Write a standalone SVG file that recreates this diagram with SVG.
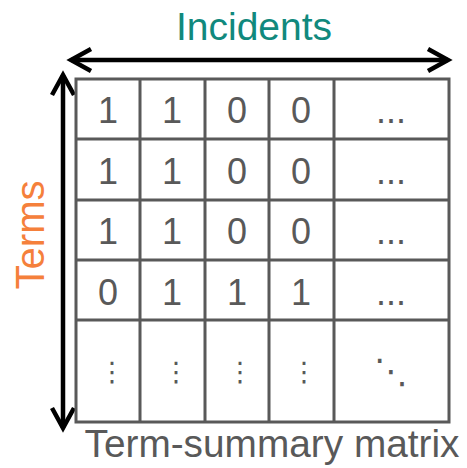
<svg xmlns="http://www.w3.org/2000/svg" width="467" height="468" viewBox="0 0 467 468">
<style>
.grid{stroke:#595959;stroke-width:3;fill:none}
.num{font-family:"Liberation Sans",Arial,sans-serif;font-size:36px;fill:#595959;text-anchor:middle}
.dots{font-family:"DejaVu Sans",sans-serif;font-size:27px;fill:#595959;text-anchor:middle}
.arrow{stroke:#000;stroke-width:4.5;fill:none}
</style>
<defs>
<marker id="chev" markerUnits="userSpaceOnUse" viewBox="-25 -14 30 28" markerWidth="30" markerHeight="28" refX="0" refY="0" orient="auto-start-reverse" overflow="visible">
<path d="M-20,-11 L0,0 L-20,11" stroke="#000" stroke-width="4.5" fill="none" stroke-linejoin="miter"/>
</marker>
</defs>
<rect width="467" height="468" fill="#fff"/>
<g id="title-incidents"><text x="254" y="40" font-family="'Liberation Sans',Arial,sans-serif" font-size="39" fill="#11897D" text-anchor="middle">Incidents</text></g>
<g id="title-terms"><text transform="translate(44,235) rotate(-90)" font-family="'Liberation Sans',Arial,sans-serif" font-size="40" fill="#F5803B" text-anchor="middle">Terms</text></g>
<g id="caption"><text x="272" y="457" font-family="'Liberation Sans',Arial,sans-serif" font-size="38" fill="#595959" text-anchor="middle" textLength="375" lengthAdjust="spacingAndGlyphs">Term-summary matrix</text></g>
<g id="connectors">
<line class="arrow" x1="71" y1="60" x2="448" y2="60" marker-start="url(#chev)" marker-end="url(#chev)"/>
<line class="arrow" x1="63" y1="75" x2="63" y2="428" marker-start="url(#chev)" marker-end="url(#chev)"/>
</g>
<g id="matrix">
<rect class="grid" x="76" y="79" width="373" height="343"/>
<path class="grid" d="M140,79V422M205,79V422M269,79V422M334,79V422M76,139H449M76,200H449M76,260H449M76,320H449"/>
<g id="row1"><text class="num" x="108" y="123">1</text><text class="num" x="172" y="123">1</text><text class="num" x="237" y="123">0</text><text class="num" x="301" y="123">0</text><text class="num" x="391" y="123">...</text></g>
<g id="row2"><text class="num" x="108" y="184">1</text><text class="num" x="172" y="184">1</text><text class="num" x="237" y="184">0</text><text class="num" x="301" y="184">0</text><text class="num" x="391" y="184">...</text></g>
<g id="row3"><text class="num" x="108" y="244">1</text><text class="num" x="172" y="244">1</text><text class="num" x="237" y="244">0</text><text class="num" x="301" y="244">0</text><text class="num" x="391" y="244">...</text></g>
<g id="row4"><text class="num" x="108" y="305">0</text><text class="num" x="172" y="305">1</text><text class="num" x="237" y="305">1</text><text class="num" x="301" y="305">1</text><text class="num" x="391" y="305">...</text></g>
<g id="row5"><text class="dots" x="112" y="381">⋮</text><text class="dots" x="176" y="381">⋮</text><text class="dots" x="240" y="381">⋮</text><text class="dots" x="304" y="381">⋮</text><text class="dots" x="391" y="383" style="font-size:34px">⋱</text></g>
</g>
</svg>
